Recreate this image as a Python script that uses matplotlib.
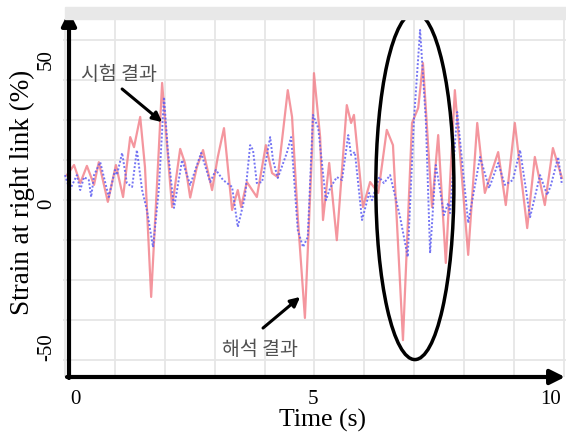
import numpy as np
import matplotlib
matplotlib.use('Agg')
import matplotlib.pyplot as plt
from matplotlib.patches import Ellipse, Rectangle

plt.rcParams['font.family'] = 'Liberation Serif'

# test result (red, solid) - time [s], strain [%]
t_test = [-0.17, -0.02, 0.11, 0.25, 0.40, 0.50, 0.69, 0.86, 1.01, 1.16, 1.24, 1.37,
          1.47, 1.60, 1.76, 1.83, 1.97, 2.04, 2.21, 2.31, 2.42, 2.56, 2.69, 2.88,
          3.00, 3.13, 3.30, 3.42, 3.49, 3.61, 3.82, 4.01, 4.14, 4.26, 4.47, 4.56,
          4.68, 4.83, 4.98, 5.02, 5.15, 5.21, 5.34, 5.50, 5.71, 5.80, 5.86, 6.05,
          6.20, 6.37, 6.55, 6.68, 6.89, 7.08, 7.21, 7.31, 7.50, 7.63, 7.79, 7.98,
          8.26, 8.45, 8.61, 8.89, 9.05, 9.24, 9.50, 9.66, 9.87, 10.04, 10.23]
s_test = [9.8, 13.3, 7.0, 13.0, 6.4, 14.3, 0.5, 13.3, 2.2, 23.0, 19.5, 30.0,
          12.6, -32.5, 18.5, 41.8, 12.6, -1.3, 18.9, 14.0, 2.0, 12.6, 18.5, 4.6,
          16.1, 26.1, -2.3, 4.6, -1.3, 7.4, 2.2, 20.2, 10.5, 9.1, 39.3, 30.0,
          -4.8, -39.8, 18.5, 45.2, 23.0, -5.8, 14.0, -12.8, 34.1, 27.9, 30.7, -1.3,
          7.4, 3.6, 25.5, 20.2, -47.5, 27.9, 33.1, 48.7, -1.3, 23.7, -20.7, 39.3,
          -17.9, 27.9, 3.6, 17.8, -0.6, 27.9, -8.6, 16.1, -0.6, 19.2, 8.8]

# analysis result (blue, dotted)
t_sim = [-0.21, -0.11, 0.04, 0.11, 0.19, 0.29, 0.34, 0.40, 0.53, 0.71, 0.84, 0.88,
         0.99, 1.09, 1.20, 1.30, 1.41, 1.51, 1.64, 1.76, 1.87, 1.95, 2.08, 2.25,
         2.42, 2.65, 2.84, 2.96, 3.11, 3.30, 3.42, 3.57, 3.68, 3.74, 3.82, 3.93,
         4.10, 4.16, 4.26, 4.45, 4.54, 4.68, 4.79, 4.89, 5.00, 5.11, 5.27, 5.36,
         5.50, 5.61, 5.74, 5.80, 5.88, 6.03, 6.18, 6.24, 6.39, 6.49, 6.62, 6.83,
         6.99, 7.12, 7.25, 7.37, 7.46, 7.58, 7.67, 7.75, 7.84, 7.88, 8.03, 8.26,
         8.51, 8.70, 8.89, 9.03, 9.20, 9.35, 9.56, 9.77, 9.92, 10.00, 10.15, 10.23]
s_sim = [9.8, 4.6, 9.8, 4.6, 9.1, 8.1, 2.2, 9.8, 14.3, 2.2, 11.6, 9.8,
         17.5, 7.0, 5.7, 18.5, 4.6, -2.3, -15.2, 4.6, 36.9, 18.5, -1.6, 15.0,
         6.4, 17.5, 7.4, 11.6, 8.1, 5.7, -8.2, 2.2, 20.2, 18.5, 7.0, 7.4,
         23.0, 15.0, 8.8, 17.5, 23.0, -9.3, -15.2, -11.7, 30.7, 26.1, 1.1, 5.3,
         9.1, 8.1, 23.7, 16.8, 17.8, -5.8, 3.6, 1.1, 9.1, 7.0, 9.8, -4.8,
         -18.6, 28.9, 60.2, 28.9, -17.3, 13.3, 4.6, -4.1, 0.1, -3.4, 31.7, -6.8,
         16.1, 5.3, 14.0, 6.4, 8.1, 18.5, -4.8, 9.8, 2.9, 6.4, 16.1, 6.4]

x_ticks = [0, 5, 10]
y_ticks = [-50, 0, 50]

fig = plt.figure(figsize=(5.66, 4.34), dpi=100)
ax = fig.add_axes([63/566, 57/434, 503/566, 358/434])

# grey strip above the plot area
fig.patches.append(Rectangle((65/566, 1 - 19/434), 1, 12/434, transform=fig.transFigure,
                             color='#e8e8e8', zorder=0))

ax.plot(t_test, s_test, color='#f27c86', lw=1.6, alpha=0.8)
ax.plot(t_sim, s_sim, color='#5c5cf2', lw=1.4, ls=(0, (1, 1)), alpha=0.85)

ax.set_xlim(-0.252, 10.315)
ax.set_ylim(-60.3, 64.0)
ax.set_xticks(x_ticks)
ax.set_xticklabels([str(v) for v in x_ticks], fontsize=15)
ax.set_yticks(y_ticks)
ax.set_yticklabels([str(v) for v in y_ticks], fontsize=15, rotation=90, va='center')
ax.set_xticks(np.arange(-0.21, 10.4, 1.048), minor=True)
ax.set_yticks(np.arange(-54.4, 60, 13.88), minor=True)
ax.grid(which='minor', color='#e6e6e6', lw=1.3)
ax.grid(which='major', visible=False)
ax.tick_params(which='both', length=0)
ax.tick_params(axis='x', pad=9)
ax.tick_params(axis='y', pad=5)
for sp in ax.spines.values():
    sp.set_visible(False)

ax.set_xlabel('Time (s)', fontsize=18.5, va='center')
ax.xaxis.set_label_coords(0.515, -0.122)
ax.set_ylabel('Strain at right link (%)', fontsize=19.5, va='center')
ax.yaxis.set_label_coords(-0.0815, 0.517)

# axis arrows
ax.annotate('', xy=(69, 423), xytext=(69, 56), xycoords='figure pixels',
            arrowprops=dict(arrowstyle='-|>', lw=3, color='black', mutation_scale=22,
                            shrinkA=0, shrinkB=0))
ax.annotate('', xy=(565, 57), xytext=(67, 57), xycoords='figure pixels',
            arrowprops=dict(arrowstyle='-|>', lw=3, color='black', mutation_scale=22,
                            shrinkA=0, shrinkB=0))

# labels
kfont = ['Noto Sans CJK KR', 'DejaVu Sans']
ax.text(0.92, 44.6, '시험 결과', family=kfont, fontsize=14, color='#505050',
        ha='center', va='center')
ax.annotate('', xy=(1.83, 28.2), xytext=(0.99, 39.7),
            arrowprops=dict(arrowstyle='-|>', lw=2.2, color='black', mutation_scale=14,
                            shrinkA=0, shrinkB=0))
ax.text(3.89, -50.9, '해석 결과', family=kfont, fontsize=14, color='#505050',
        ha='center', va='center')
ax.annotate('', xy=(4.73, -32.5), xytext=(3.95, -43.3),
            arrowprops=dict(arrowstyle='-|>', lw=2.2, color='black', mutation_scale=14,
                            shrinkA=0, shrinkB=0))

ax.add_patch(Ellipse((7.14, 6.0), 1.64, 120.5, fill=False, ec='black', lw=2.5,
                     clip_on=False, zorder=5))

fig.savefig('out.png', dpi=100)
